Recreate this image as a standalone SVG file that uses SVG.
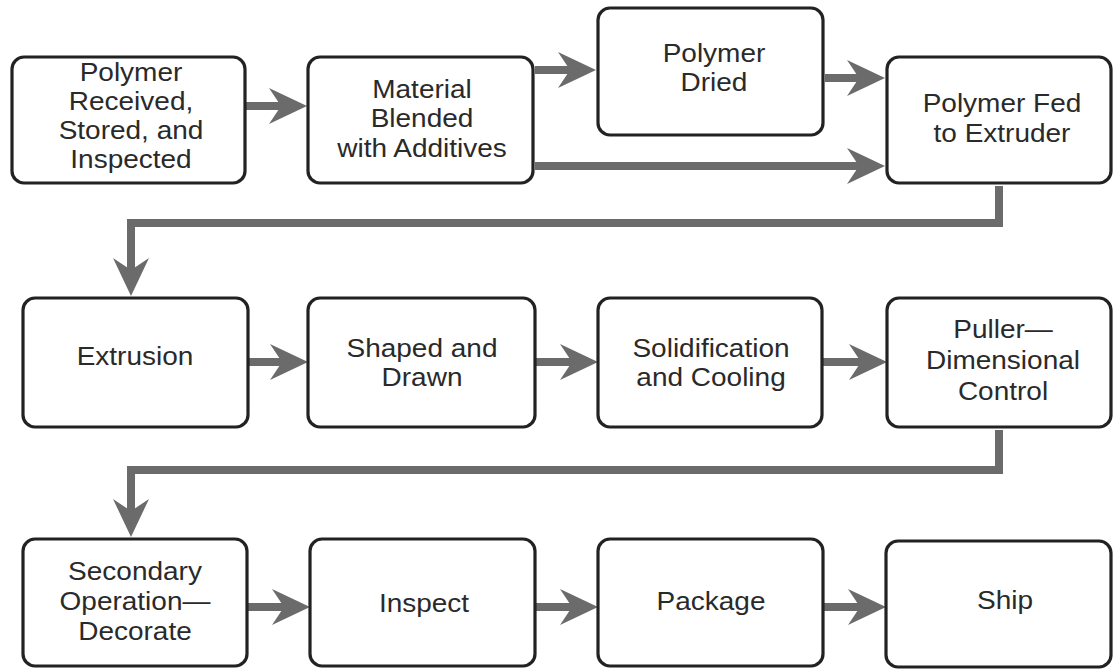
<svg xmlns="http://www.w3.org/2000/svg" width="1117" height="670" viewBox="0 0 1117 670">
<style>
.box{fill:#fff;stroke:#222;stroke-width:3.2}
.lbl{font-family:"Liberation Sans",Arial,Helvetica,sans-serif;font-size:25px;fill:#2a2a2a;text-anchor:middle}
.con{fill:none;stroke:#6b6b6b;stroke-width:8;stroke-linejoin:miter}
</style>
<defs>
<marker id="ah" markerUnits="userSpaceOnUse" markerWidth="38" markerHeight="36" viewBox="0 0 38 36" refX="12" refY="18" orient="auto">
<path d="M0,0 L38,18 L0,36 L12,18 Z" fill="#6b6b6b"/>
</marker>
</defs>
<rect width="1117" height="670" fill="#fff"/>
<g id="connectors">
<path class="con" d="M245,106 H281" marker-end="url(#ah)"/>
<path class="con" d="M535,70 H570" marker-end="url(#ah)"/>
<path class="con" d="M825,78 H859" marker-end="url(#ah)"/>
<path class="con" d="M535,166 H859" marker-end="url(#ah)"/>
<path class="con" d="M999,186 V223 H131 V270" marker-end="url(#ah)"/>
<path class="con" d="M249,362 H282" marker-end="url(#ah)"/>
<path class="con" d="M536,362 H572" marker-end="url(#ah)"/>
<path class="con" d="M823,362 H861" marker-end="url(#ah)"/>
<path class="con" d="M999,430 V470 H131 V511" marker-end="url(#ah)"/>
<path class="con" d="M248,607 H284" marker-end="url(#ah)"/>
<path class="con" d="M536,607 H572" marker-end="url(#ah)"/>
<path class="con" d="M824,607 H860" marker-end="url(#ah)"/>
</g>
<g id="n1"><rect class="box" x="12" y="57" width="233" height="126" rx="12"/>
<g transform="translate(131,0) scale(1.12,1)"><text class="lbl" x="0" y="81">Polymer</text><text class="lbl" x="0" y="110">Received,</text><text class="lbl" x="0" y="139">Stored, and</text><text class="lbl" x="0" y="168">Inspected</text></g></g>
<g id="n2"><rect class="box" x="308" y="57" width="225" height="126" rx="12"/>
<g transform="translate(422,0) scale(1.12,1)"><text class="lbl" x="0" y="98">Material</text><text class="lbl" x="0" y="127">Blended</text><text class="lbl" x="0" y="157">with Additives</text></g></g>
<g id="n3"><rect class="box" x="598" y="8" width="225" height="127" rx="12"/>
<g transform="translate(714,0) scale(1.12,1)"><text class="lbl" x="0" y="62">Polymer</text><text class="lbl" x="0" y="91">Dried</text></g></g>
<g id="n4"><rect class="box" x="887" y="57" width="224" height="126" rx="12"/>
<g transform="translate(1002,0) scale(1.12,1)"><text class="lbl" x="0" y="112">Polymer Fed</text><text class="lbl" x="0" y="142">to Extruder</text></g></g>
<g id="n5"><rect class="box" x="23" y="298" width="225" height="129" rx="12"/>
<g transform="translate(135,0) scale(1.12,1)"><text class="lbl" x="0" y="365">Extrusion</text></g></g>
<g id="n6"><rect class="box" x="308" y="298" width="227" height="129" rx="12"/>
<g transform="translate(422,0) scale(1.12,1)"><text class="lbl" x="0" y="357">Shaped and</text><text class="lbl" x="0" y="386">Drawn</text></g></g>
<g id="n7"><rect class="box" x="598" y="298" width="224" height="129" rx="12"/>
<g transform="translate(711,0) scale(1.12,1)"><text class="lbl" x="0" y="357">Solidification</text><text class="lbl" x="0" y="386">and Cooling</text></g></g>
<g id="n8"><rect class="box" x="887" y="298" width="224" height="129" rx="12"/>
<g transform="translate(1003,0) scale(1.12,1)"><text class="lbl" x="0" y="338">Puller—</text><text class="lbl" x="0" y="369">Dimensional</text><text class="lbl" x="0" y="400">Control</text></g></g>
<g id="n9"><rect class="box" x="23" y="539" width="224" height="127" rx="12"/>
<g transform="translate(135,0) scale(1.12,1)"><text class="lbl" x="0" y="580">Secondary</text><text class="lbl" x="0" y="610">Operation—</text><text class="lbl" x="0" y="640">Decorate</text></g></g>
<g id="n10"><rect class="box" x="310" y="539" width="225" height="127" rx="12"/>
<g transform="translate(424,0) scale(1.12,1)"><text class="lbl" x="0" y="612">Inspect</text></g></g>
<g id="n11"><rect class="box" x="598" y="539" width="225" height="127" rx="12"/>
<g transform="translate(711,0) scale(1.12,1)"><text class="lbl" x="0" y="610">Package</text></g></g>
<g id="n12"><rect class="box" x="886" y="541" width="225" height="126" rx="12"/>
<g transform="translate(1005,0) scale(1.12,1)"><text class="lbl" x="0" y="609">Ship</text></g></g>
</svg>
